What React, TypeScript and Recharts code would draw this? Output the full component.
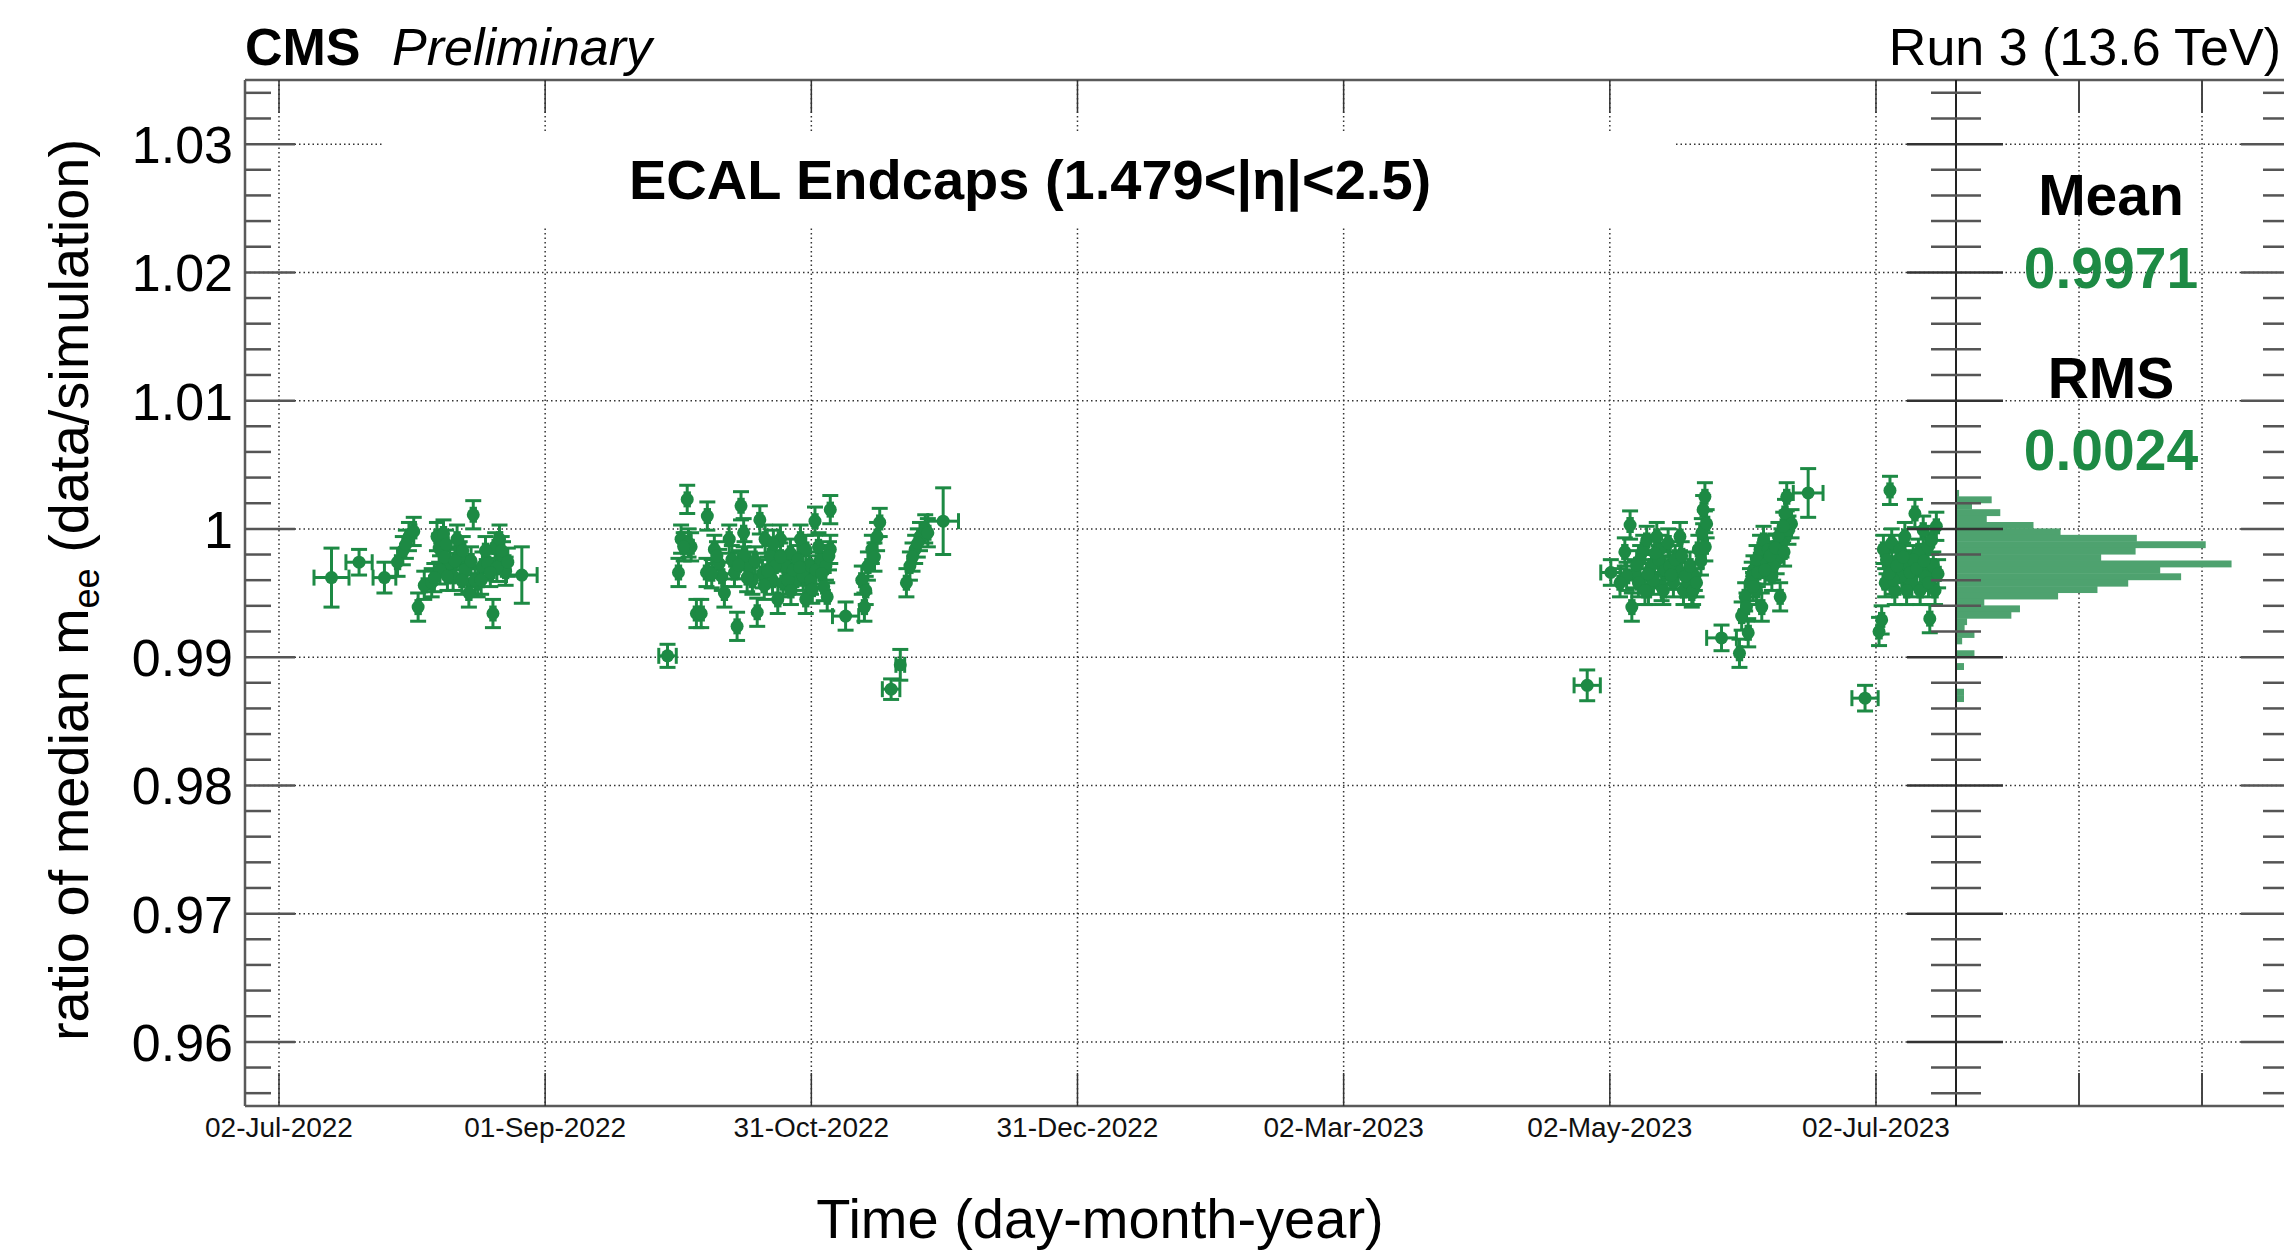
import React from "react";
import {
  ComposedChart,
  BarChart,
  Bar,
  Scatter,
  ErrorBar,
  XAxis,
  YAxis,
  CartesianGrid,
  ReferenceLine,
} from "recharts";

// time axis: days since 02-Jul-2022 (ROOT splits the year in 6 equal divisions)
const tickDays = [0, 60.83, 121.67, 182.5, 243.33, 304.17, 365];
const tickLabels = [
  "02-Jul-2022",
  "01-Sep-2022",
  "31-Oct-2022",
  "31-Dec-2022",
  "02-Mar-2023",
  "02-May-2023",
  "02-Jul-2023",
];
const xDomain = [-7.77, 383.29];

const yDomain = [0.955, 1.035];
const yMajor = [0.96, 0.97, 0.98, 0.99, 1, 1.01, 1.02, 1.03];

// [day, ratio, dayErr, ratioErr] -- errors fall back to the typical size
type Row = [number, number, number?, number?];

const summer2022: Row[] = [
  [12.0, 0.9962, 4, 0.0023], [18.3, 0.9974, 3, 0.001], [24.1, 0.9962, 2.6, 0.0012],
  [27.1, 0.9974], [28.3, 0.9983], [29.7, 0.9994], [30.8, 0.9998], [31.8, 0.9939],
  [33.2, 0.9956], [34.9, 0.9958], [36.1, 0.9994], [36.6, 0.9985], [37.6, 0.9996],
  [39.0, 0.9973], [39.8, 0.9963], [40.7, 0.9992], [41.3, 0.9979], [42.5, 0.9968],
  [43.4, 0.995], [44.4, 1.0011], [45.4, 0.9958], [46.5, 0.9971], [47.7, 0.9973],
  [48.9, 0.9934], [49.4, 0.9986], [50.4, 0.9992], [51.2, 0.9979], [51.8, 0.9967],
  [37.8, 0.9978], [40.2, 0.9975], [42.0, 0.9983], [47.2, 0.9983], [50.9, 0.9983],
  [36.8, 0.9968], [38.5, 0.9963], [44.8, 0.996], [46.2, 0.996], [38.2, 0.9988],
  [41.8, 0.996], [49.8, 0.997], [29.0, 0.9988], [35.5, 0.9962], [43.9, 0.9975],
  [48.3, 0.9966], [52.3, 0.9974], [55.5, 0.9964, 3.5, 0.0022],
];

const autumn2022: Row[] = [
  [88.8, 0.9901, 2, 0.0009], [91.3, 0.9966], [91.9, 0.9992], [93.3, 1.0023], [94.2, 0.9986],
  [95.4, 0.9934], [96.5, 0.9934], [97.9, 1.001], [97.7, 0.9966], [99.5, 0.9984],
  [100.6, 0.9973], [101.8, 0.995], [102.9, 0.9992], [104.1, 0.9966], [104.7, 0.9924],
  [105.6, 1.0018], [106.2, 0.9997], [107.6, 0.9971], [109.3, 0.9935], [109.9, 1.0007],
  [111.1, 0.9992], [112.3, 0.9979], [112.8, 0.996], [114.0, 0.9945], [114.6, 0.9992],
  [115.7, 0.9971], [116.9, 0.9981], [118.1, 0.996], [119.2, 0.9992], [120.4, 0.9945],
  [121.2, 0.9971], [122.5, 1.0006], [123.3, 0.9986], [124.5, 0.9955], [126.0, 1.0015],
  [126.0, 0.9984], [110.5, 0.9965], [113.4, 0.9971], [115.2, 0.9958], [116.3, 0.996],
  [117.5, 0.9968], [118.6, 0.9976], [119.8, 0.9963], [121.6, 0.996], [122.7, 0.9968],
  [123.9, 0.9976], [125.0, 0.9971], [125.3, 0.9947], [108.2, 0.996], [106.4, 0.9979],
  [103.5, 0.9976], [101.2, 0.9963], [98.9, 0.9965], [93.6, 0.9989], [92.5, 0.9986],
  [111.7, 0.9967], [114.6, 0.9978], [120.4, 0.9984], [100.1, 0.9979], [105.0, 0.9972],
  [107.0, 0.9962], [108.8, 0.9975], [110.9, 0.9956], [113.0, 0.9988], [117.0, 0.9952],
  [119.0, 0.997], [121.9, 0.9953], [124.0, 0.9965], [125.7, 0.9979],
  [129.5, 0.9932, 3, 0.0011], [133.2, 0.996], [133.8, 0.9939], [134.6, 0.9971],
  [135.5, 0.9984], [136.7, 0.9994], [137.3, 1.0005], [134.1, 0.9952], [136.1, 0.9978],
  [139.9, 0.9875, 2, 0.0008], [142.0, 0.9894, 1, 0.0012], [143.4, 0.9958], [144.2, 0.9971],
  [145.4, 0.9984], [146.5, 0.9994], [147.7, 1.0], [148.3, 0.9997], [144.8, 0.9978],
  [146.0, 0.9989], [151.8, 1.0006, 3.5, 0.0026],
];

const spring2023: Row[] = [
  [299.0, 0.9878, 3, 0.0012], [304.4, 0.9966, 2.3, 0.001], [307.6, 0.9982], [308.8, 1.0003],
  [309.2, 0.9939], [309.9, 0.9965], [310.7, 0.9958], [311.8, 0.9984], [312.6, 0.9991],
  [313.0, 0.9952], [313.7, 0.9971], [314.9, 0.9994], [315.6, 0.9984], [316.0, 0.9955],
  [316.8, 0.9968], [317.5, 0.9989], [318.7, 0.9958], [319.8, 0.9968], [320.2, 0.9994],
  [321.0, 0.9952], [322.1, 0.9958], [322.9, 0.995], [323.6, 0.9963], [324.4, 0.9984],
  [325.2, 0.9997], [325.5, 1.0015], [325.9, 1.0025], [326.3, 1.0004],
  [308.0, 0.9963], [311.1, 0.9976], [312.2, 0.9952], [314.1, 0.996], [315.3, 0.9976],
  [316.4, 0.9952], [317.9, 0.9971], [319.1, 0.9976], [321.4, 0.9963], [322.5, 0.9971],
  [323.2, 0.9952], [306.5, 0.9958], [310.3, 0.9972], [312.9, 0.9965], [314.5, 0.9981],
  [318.2, 0.9964], [320.6, 0.9979], [324.0, 0.9958], [325.0, 0.9975], [326.0, 0.9986],
  [329.7, 0.9915, 3.4, 0.001], [333.8, 0.9903], [334.3, 0.9932], [335.1, 0.9947],
  [335.8, 0.9919], [336.2, 0.9958], [337.0, 0.9968], [337.7, 0.9976], [338.5, 0.9984],
  [338.9, 0.9939], [339.3, 0.9991], [340.0, 0.9973], [341.2, 0.9963], [342.3, 0.9976],
  [343.1, 0.9947], [343.4, 0.9989], [344.2, 1.0012], [344.6, 1.0025], [345.0, 0.9999],
  [345.7, 1.0004], [335.4, 0.9939], [336.6, 0.9963], [337.7, 0.9952], [340.4, 0.9984],
  [341.5, 0.9971], [342.7, 0.9994], [343.8, 1.0002], [336.9, 0.9955], [338.0, 0.9966],
  [339.6, 0.9968], [340.8, 0.9979], [342.0, 0.9985], [344.0, 0.9982],
  [349.5, 1.0028, 3.4, 0.0019],
];

const summer2023: Row[] = [
  [362.5, 0.9868, 3, 0.001], [365.7, 0.992], [366.3, 0.9929], [366.7, 0.9984],
  [367.1, 0.9958], [367.8, 0.9971], [368.2, 1.003], [368.6, 0.9989], [369.3, 0.9952],
  [370.1, 0.9976], [370.9, 0.9963], [371.6, 0.9994], [372.4, 0.9971], [373.2, 0.9958],
  [373.9, 1.0012], [374.7, 0.9981], [375.1, 0.9952], [375.8, 0.9999], [376.9, 0.9986],
  [377.3, 0.993], [378.1, 0.9971], [378.8, 1.0002], [379.2, 0.9965], [378.5, 0.9952],
  [367.4, 0.9976], [369.0, 0.996], [370.5, 0.9984], [372.0, 0.9952], [373.5, 0.9976],
  [376.2, 0.9963], [377.7, 0.9991], [368.0, 0.9965], [369.8, 0.9971], [371.2, 0.9978],
  [372.8, 0.9966], [374.3, 0.9969], [376.0, 0.9975], [377.0, 0.9958],
];

// projection on the right: bin centres (bin width 0.0005) and bar lengths
const histCentres = [
  1.00275, 1.00225, 1.00175, 1.00125, 1.00075, 1.00025, 0.99975, 0.99925, 0.99875,
  0.99825, 0.99775, 0.99725, 0.99675, 0.99625, 0.99575, 0.99525, 0.99475, 0.99425,
  0.99375, 0.99325, 0.99275, 0.99225, 0.99175, 0.99125, 0.99075, 0.99025, 0.98975,
  0.98925, 0.98875, 0.98825, 0.98775, 0.98725, 0.98675,
];
const histWeights = [
  0.25, 2.9, 1.3, 3.6, 2.5, 6.3, 8.5, 14.7, 20.3, 14.6, 11.8, 22.4, 16.6, 18.3, 14.0,
  11.5, 8.3, 2.3, 5.2, 4.5, 0.9, 0.7, 1.5, 0.5, 0, 1.5, 0, 0.65, 0, 0, 0, 0.65, 0.65,
];
const histDomain = [0, 27.07];
const histGrid = [10, 20];

const meanValue = "0.9971";
const rmsValue = "0.0024";

// ---- styling / layout ----
const FONT = "'Liberation Sans', Arial, Helvetica, sans-serif";
const GREEN = "#1d8a44";
const HIST_GREEN = "#4ea26f";
const FRAME = "#5a5a5a";
const GRID = "#333";
const PLOT_TOP = 80;
const MAIN_W = 1956;
const HIST_X = 1880;
const HIST_AXIS_W = 76;
const HIST_PANEL_W = 333;
// one 0.0005 bin is 1026 * 0.0005 / 0.08 px tall (a hair more to close seams)
const BIN_PX = 6.9;

const yTicks: number[] = [];
for (let k = 478; k <= 517; k++) yTicks.push(k / 500);
const isMajor = (v: number) => Math.round(v * 500) % 5 === 0;
const fmtY = (v: number) => String(Number(v.toFixed(2)));

const toPoints = (rows: Row[]) =>
  rows.map(([day, ratio, dayErr = 0.5, ratioErr = 0.0011]) => ({ day, ratio, dayErr, ratioErr }));

const points = [
  ...toPoints(summer2022),
  ...toPoints(autumn2022),
  ...toPoints(spring2023),
  ...toPoints(summer2023),
];

const histData = histCentres.map((c, i) => ({ centre: c, weight: histWeights[i] }));

const LeftTick = ({ x, y, payload }: any) => {
  const major = isMajor(payload.value);
  return (
    <g>
      <line x1={x} x2={x + (major ? 50 : 26)} y1={y} y2={y} stroke="#555" strokeWidth={2.5} />
      {major && (
        <text x={x - 12} y={y + 19} textAnchor="end" fontSize={52} fontFamily={FONT} fill="#000">
          {fmtY(payload.value)}
        </text>
      )}
    </g>
  );
};

const MainXTick = ({ x, y, payload }: any) => {
  const i = tickDays.findIndex((d) => Math.abs(d - payload.value) < 0.01);
  return (
    <g>
      <line x1={x} x2={x} y1={y} y2={y - 33} stroke="#333" strokeWidth={1.5} />
      <line x1={x} x2={x} y1={PLOT_TOP} y2={PLOT_TOP + 33} stroke="#333" strokeWidth={1.5} />
      <text x={x} y={y + 31} textAnchor="middle" fontSize={28} fontFamily={FONT} fill="#111">
        {tickLabels[i]}
      </text>
    </g>
  );
};

const HistXTick = ({ x, y }: any) => (
  <g>
    <line x1={x} x2={x} y1={y} y2={y - 33} stroke="#444" strokeWidth={2} />
    <line x1={x} x2={x} y1={PLOT_TOP} y2={PLOT_TOP + 33} stroke="#444" strokeWidth={2} />
  </g>
);

// ticks on the shared axis between the two pads, plus the pad's right-hand ticks
const SplitTick = ({ x, y, payload }: any) => {
  const major = isMajor(payload.value);
  const right = x + HIST_PANEL_W;
  return (
    <g>
      <line
        x1={x - (major ? 49 : 25)}
        x2={x + (major ? 47 : 25)}
        y1={y}
        y2={y}
        stroke={major ? "#333" : "#555"}
        strokeWidth={2.5}
      />
      <line x1={right} x2={right - (major ? 48 : 26)} y1={y} y2={y} stroke="#555" strokeWidth={2.5} />
    </g>
  );
};

const Marker = (p: any) => <circle cx={p.cx} cy={p.cy} r={6.5} fill={GREEN} />;

// histogram bin: keep the library's centre and length, fill the whole bin height
const HistBin = (p: any) =>
  p.width > 0 ? (
    <rect x={p.x} y={p.y + p.height / 2 - BIN_PX / 2} width={p.width} height={BIN_PX} fill={HIST_GREEN} />
  ) : null;

export default function App() {
  return (
    <div
      style={{
        position: "absolute",
        left: 0,
        top: 0,
        width: 2284,
        height: 1251,
        overflow: "hidden",
        background: "#fff",
      }}
    >
      <div style={{ position: "absolute", left: 0, top: 0 }}>
        <ComposedChart width={MAIN_W} height={1251} margin={{ top: PLOT_TOP, right: 0, bottom: 0, left: 0 }}>
          <CartesianGrid
            horizontalValues={yMajor}
            verticalValues={tickDays}
            stroke={GRID}
            strokeDasharray="1.5 3"
            strokeWidth={1.5}
          />
          <XAxis
            type="number"
            dataKey="day"
            domain={xDomain}
            ticks={tickDays}
            interval={0}
            allowDataOverflow
            height={145}
            tickSize={0}
            tickMargin={0}
            tick={<MainXTick />}
            axisLine={{ stroke: FRAME, strokeWidth: 2.5 }}
          />
          <YAxis
            type="number"
            dataKey="ratio"
            domain={yDomain}
            ticks={yTicks}
            interval={0}
            allowDataOverflow
            width={245}
            tickSize={0}
            tickMargin={0}
            tick={<LeftTick />}
            axisLine={{ stroke: FRAME, strokeWidth: 2.5 }}
          />
          <ReferenceLine y={yDomain[1]} stroke={FRAME} strokeWidth={2.5} />
          <Scatter data={points} shape={Marker} isAnimationActive={false}>
            <ErrorBar dataKey="dayErr" direction="x" width={8} stroke={GREEN} strokeWidth={3} />
            <ErrorBar dataKey="ratioErr" direction="y" width={8} stroke={GREEN} strokeWidth={3} />
          </Scatter>
        </ComposedChart>
      </div>

      <div style={{ position: "absolute", left: HIST_X, top: 0 }}>
        <BarChart
          layout="vertical"
          width={HIST_AXIS_W + HIST_PANEL_W}
          height={1251}
          data={histData}
          margin={{ top: PLOT_TOP, right: 0, bottom: 0, left: 0 }}
          barCategoryGap={0}
          barGap={0}
        >
          <CartesianGrid
            horizontalValues={yMajor}
            verticalValues={histGrid}
            stroke={GRID}
            strokeDasharray="1.5 3"
            strokeWidth={1.5}
          />
          <XAxis
            type="number"
            domain={histDomain}
            ticks={histGrid}
            interval={0}
            allowDataOverflow
            height={145}
            tickSize={0}
            tickMargin={0}
            tick={<HistXTick />}
            axisLine={{ stroke: FRAME, strokeWidth: 2.5 }}
          />
          <YAxis
            type="number"
            dataKey="centre"
            domain={yDomain}
            ticks={yTicks}
            interval={0}
            reversed
            allowDataOverflow
            width={HIST_AXIS_W}
            tickSize={0}
            tickMargin={0}
            tick={<SplitTick />}
            axisLine={{ stroke: "#222", strokeWidth: 2 }}
          />
          <ReferenceLine y={yDomain[1]} stroke={FRAME} strokeWidth={2.5} />
          <Bar dataKey="weight" fill={HIST_GREEN} shape={HistBin} isAnimationActive={false} />
        </BarChart>
      </div>

      <svg
        width={2284}
        height={1251}
        style={{ position: "absolute", left: 0, top: 0, pointerEvents: "none" }}
        fontFamily={FONT}
      >
        <rect x={382} y={132} width={1292} height={96} fill="#fff" />
        <text x={245} y={65} fontSize={52} fontWeight="bold">CMS</text>
        <text x={392} y={65} fontSize={52} fontStyle="italic">Preliminary</text>
        <text x={2281} y={65} fontSize={52} textAnchor="end">Run 3 (13.6 TeV)</text>
        <text x={629} y={199} fontSize={56} fontWeight="bold">
          ECAL Endcaps (1.479&lt;|η|&lt;2.5)
        </text>
        <text x={2111} y={215} fontSize={57} fontWeight="bold" textAnchor="middle">Mean</text>
        <text x={2111} y={288} fontSize={57} fontWeight="bold" textAnchor="middle" fill={GREEN}>
          {meanValue}
        </text>
        <text x={2111} y={398} fontSize={57} fontWeight="bold" textAnchor="middle">RMS</text>
        <text x={2111} y={470} fontSize={57} fontWeight="bold" textAnchor="middle" fill={GREEN}>
          {rmsValue}
        </text>
        <text x={1100} y={1238} fontSize={56} textAnchor="middle">Time (day-month-year)</text>
        <text transform="translate(88,590) rotate(-90)" fontSize={56} textAnchor="middle">
          ratio of median m
          <tspan fontSize={36} dy={11}>ee</tspan>
          <tspan dy={-11}> (data/simulation)</tspan>
        </text>
      </svg>
    </div>
  );
}
